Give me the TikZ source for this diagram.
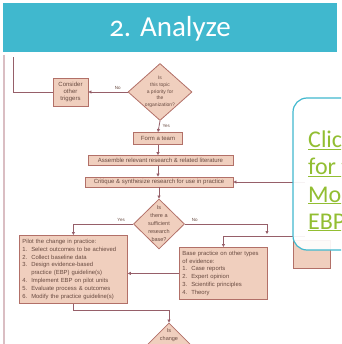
\documentclass[tikz,border=0pt]{standalone}
\usepackage{fontspec}
\setmainfont{Liberation Sans}
\newfontfamily\slidefont[Numbers=OldStyle]{Carlito}
\usetikzlibrary{shapes.geometric, arrows.meta}
\definecolor{headteal}{RGB}{64,184,206}
\definecolor{boxfill}{RGB}{240,207,190}
\definecolor{boxline}{RGB}{178,112,104}
\definecolor{flowline}{RGB}{150,95,105}
\definecolor{boxtext}{RGB}{105,75,65}
\definecolor{borderpink}{RGB}{218,190,195}
\definecolor{linkgreen}{RGB}{146,190,50}

\begin{document}
\begin{tikzpicture}[x=1pt, y=-1pt,
	box/.style={draw=boxline, fill=boxfill, line width=0.8pt, text=boxtext, inner sep=0pt, align=center, font=\fontsize{6}{6.8}\selectfont},
	listbox/.style={box, align=left, anchor=north west, inner sep=3pt, font=\fontsize{5.9}{7.9}\selectfont},
	decision/.style={diamond, draw=boxline, fill=boxfill, line width=0.8pt, inner sep=0pt},
	dtext/.style={text=boxtext, align=center, inner sep=0pt, font=\fontsize{5}{6.6}\selectfont},
	flow/.style={draw=flowline, line width=0.8pt},
	tip/.style={-{Triangle[length=3pt,width=3pt]}},
	lab/.style={text=boxtext, inner sep=0pt, font=\fontsize{4.5}{5}\selectfont},
	linktext/.style={text=linkgreen, inner sep=0pt, anchor=base west, font=\slidefont\fontsize{24}{27}\selectfont}]
	\useasboundingbox (0,0) rectangle (341,344);
	\clip (0,0) rectangle (341,344);
	% title bar
	\fill[headteal] (3,3) rectangle (337,52);
	\node[text=white, anchor=base, inner sep=0pt, font=\slidefont\fontsize{29}{29}\selectfont] (title) at (170,37) {2. Analyze};
	\draw[borderpink, line width=1.5pt] (4,55) -- (4,344);
	% flowchart
	\node[decision, minimum width=64pt, minimum height=57pt, label={[dtext]center:{Is\\this topic\\a priority for\\the\\organization?}}] (prio) at (160,92) {};
	\node[box, minimum width=35pt, minimum height=28pt] (other) at (70.5,92) {Consider\\other\\triggers};
	\node[box, minimum width=49pt, minimum height=12pt] (team) at (158,138.5) {Form a team};
	\node[box, minimum width=145pt, minimum height=10pt] (assemble) at (160.5,160.5) {Assemble relevant research \& related literature};
	\node[box, minimum width=148pt, minimum height=10pt] (critique) at (159,182) {Critique \& synthesize research for use in practice};
	\node[decision, minimum width=51pt, minimum height=50pt, label={[dtext, font=\fontsize{5.5}{8}\selectfont]center:{Is\\there a\\sufficient\\research\\base?}}] (research) at (159,224) {};
	\node[listbox, minimum width=108pt, minimum height=68pt, text width=102pt] (pilot) at (19,235) {Pilot the change in practice:\\
		1.\ \ Select outcomes to be achieved\\
		2.\ \ Collect baseline data\\
		3.\ \ Design evidence-based\\
		\hphantom{3.\ \ }practice (EBP) guideline(s)\\
		4.\ \ Implement EBP on pilot units\\
		5.\ \ Evaluate process \& outcomes\\
		6.\ \ Modify the practice guideline(s)};
	\node[listbox, minimum width=88pt, minimum height=52pt, text width=82pt] (evidence) at (179,247) {Base practice on other types\\
		of evidence:\\
		1.\ \ Case reports\\
		2.\ \ Expert opinion\\
		3.\ \ Scientific principles\\
		4.\ \ Theory};
	\node[decision, minimum width=50pt, minimum height=50pt, label={[dtext, anchor=north, yshift=-6pt, font=\fontsize{5.5}{8}\selectfont]north:{Is\\change}}] (change) at (169,348) {};
	\node[box, minimum width=37pt, minimum height=28pt] (conduct) at (311.5,254) {};
	\coordinate (loop) at (13,57);
	\coordinate (back) at (305,182);
	\coordinate (nodrop) at (267,234);
	\coordinate (join) at (305,236);
	% connectors
	\draw[flow, tip] (prio.west) -- (other.east) node[lab, pos=0.25, above=2pt] {No};
	\draw[flow] (other.west) -| (loop);
	\draw[flow, tip] (prio.south) -- (team.north) node[lab, pos=0.45, right=3pt] {Yes};
	\draw[flow, tip] (team.south) -- (team.south |- assemble.north);
	\draw[flow, tip] (assemble.south -| team.south) -- (team.south |- critique.north);
	\draw[flow, tip] (back) -- (critique.east);
	\draw[flow, tip] (critique.south) -- (research.north);
	\draw[flow, tip] (research.west) -| (pilot.north) node[lab, pos=0.1, above=2pt] {Yes};
	\draw[flow, tip] (research.east) -| (nodrop) node[lab, pos=0.06, above=2pt] {No};
	\draw[flow, tip] (join) -| (evidence.north);
	\draw[flow, tip] (evidence.west) -- (evidence.west -| pilot.east);
	\draw[flow, tip] (pilot.south) -- ++(0,7) -| (change.north);
	% link callout
	\draw[headteal, line width=1.2pt, fill=white, fill opacity=0.92, rounded corners=14pt] (293,98) rectangle (390,250);
	\foreach \txt [count=\i] in {Click, for the, Model, EBP}
		\node[linktext] (link\i) at (308,121+27*\i) {\underline{\txt}};
\end{tikzpicture}
\end{document}
